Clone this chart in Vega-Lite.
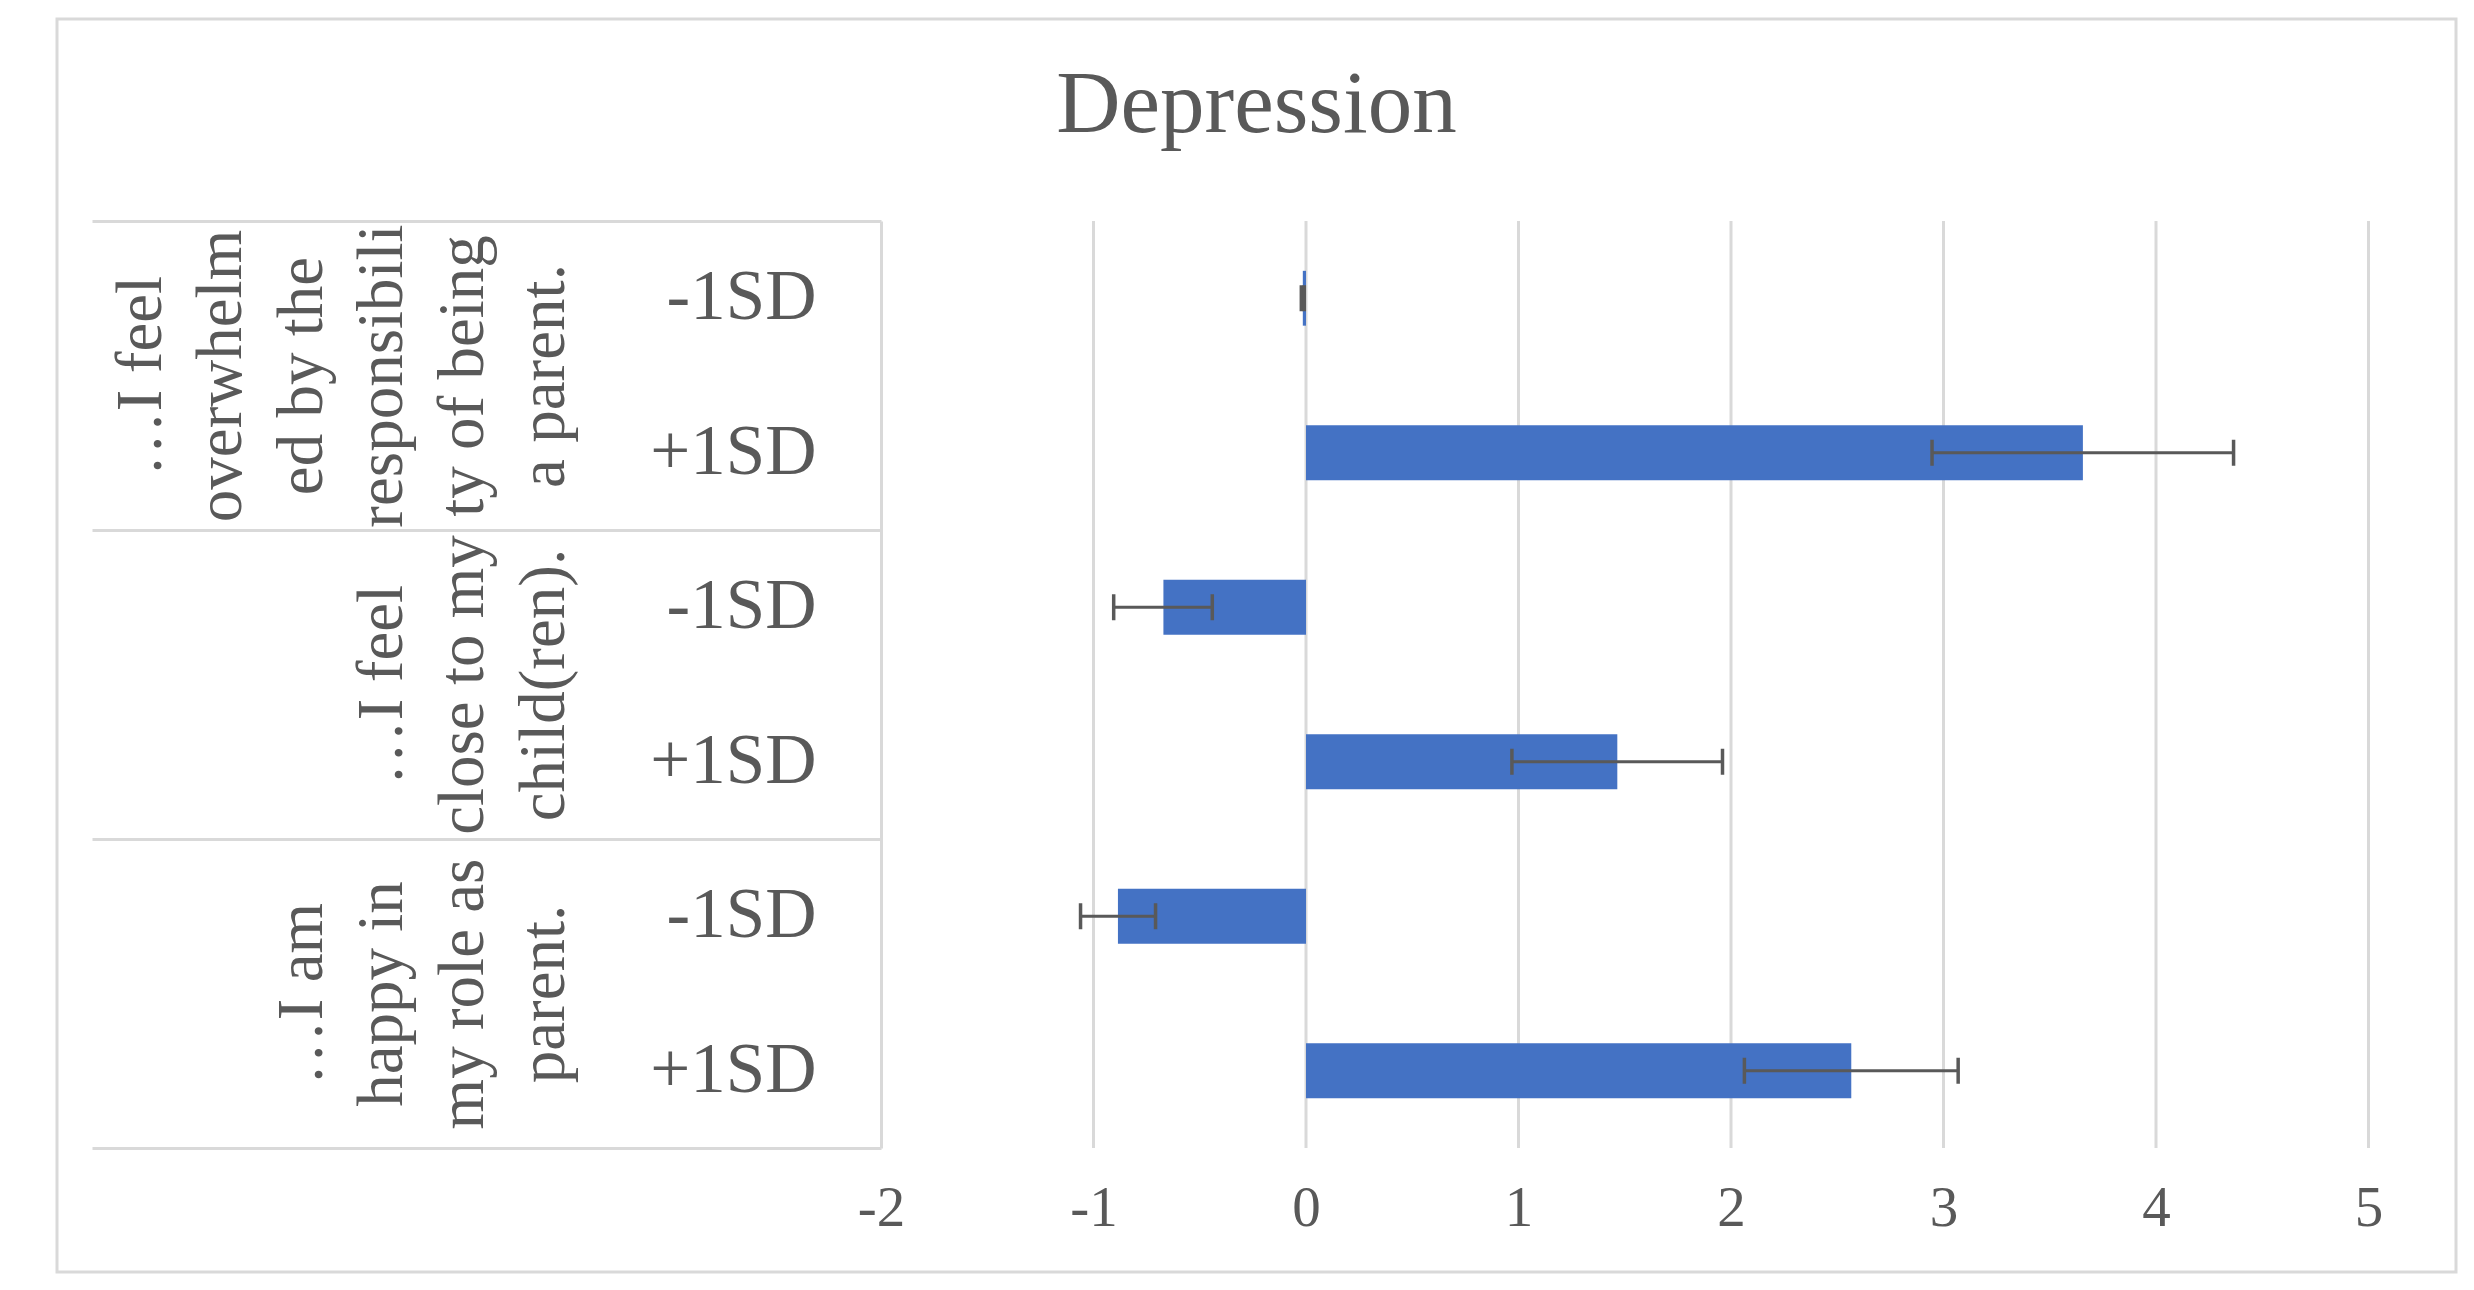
{
  "$schema": "https://vega.github.io/schema/vega-lite/v6.json",
  "width": 2399,
  "height": 1253,
  "autosize": {"type": "none"},
  "padding": {"left": 57, "top": 19, "right": 18, "bottom": 18},
  "background": "white",
  "title": {
    "text": "Depression",
    "font": "Liberation Serif",
    "fontSize": 89,
    "fontWeight": "normal",
    "color": "#595959",
    "anchor": "middle",
    "frame": "group",
    "baseline": "alphabetic",
    "offset": 0,
    "dy": 202
  },
  "data": {
    "values": [
      {"group": "…I feel\noverwhelm\ned by the\nresponsibili\nty of being\na parent.", "level": "-1SD", "row": "overwhelmed|-1SD", "mean": -0.015, "lower": -0.022, "upper": -0.008},
      {"group": "…I feel\noverwhelm\ned by the\nresponsibili\nty of being\na parent.", "level": "+1SD", "row": "overwhelmed|+1SD", "mean": 3.656, "lower": 2.946, "upper": 4.365},
      {"group": "…I feel\nclose to my\nchild(ren).", "level": "-1SD", "row": "close|-1SD", "mean": -0.671, "lower": -0.905, "upper": -0.441},
      {"group": "…I feel\nclose to my\nchild(ren).", "level": "+1SD", "row": "close|+1SD", "mean": 1.465, "lower": 0.969, "upper": 1.96},
      {"group": "…I am\nhappy in\nmy role as\nparent.", "level": "-1SD", "row": "happy|-1SD", "mean": -0.885, "lower": -1.061, "upper": -0.708},
      {"group": "…I am\nhappy in\nmy role as\nparent.", "level": "+1SD", "row": "happy|+1SD", "mean": 2.566, "lower": 2.063, "upper": 3.069}
    ]
  },
  "layer": [
    {
      "data": {"values": [{"v": -1}, {"v": 0}, {"v": 1}, {"v": 2}, {"v": 3}, {"v": 4}, {"v": 5}]},
      "mark": {"type": "rule", "color": "#D9D9D9", "strokeWidth": 3},
      "encoding": {
        "x": {"field": "v", "type": "quantitative"},
        "y": {"datum": 0, "type": "quantitative", "scale": {"domain": [0, 1], "range": [202, 1129]}, "axis": null},
        "y2": {"datum": 1}
      }
    },
    {
      "encoding": {
        "y": {
          "field": "row", "type": "nominal", "sort": null,
          "scale": {"range": [202, 1129], "paddingInner": 0.645, "paddingOuter": 0.3225},
          "axis": {
            "orient": "left", "offset": -824, "title": null, "domain": false, "ticks": false, "grid": false,
            "labelPadding": 65, "labelExpr": "split(datum.label, '|')[1]",
            "labelFont": "Liberation Serif", "labelFontSize": 71, "labelColor": "#595959",
            "labelAlign": "right", "labelBaseline": "middle", "labelLimit": 0
          }
        }
      },
      "layer": [
        {
          "mark": {"type": "bar", "color": "#4472C4"},
          "encoding": {
            "x": {
              "field": "mean", "type": "quantitative",
              "scale": {"domain": [-2, 5], "range": [824, 2311.5], "nice": false},
              "axis": {
                "orient": "bottom", "offset": -124, "title": null, "values": [-2, -1, 0, 1, 2, 3, 4, 5],
                "domain": false, "ticks": false, "grid": false, "labelFlush": false,
                "labelPadding": 77, "labelBaseline": "alphabetic", "labelExpr": "toString(datum.value)",
                "labelFont": "Liberation Serif", "labelFontSize": 57, "labelColor": "#595959", "labelLimit": 0
              }
            }
          }
        },
        {
          "mark": {"type": "rule", "color": "#595959", "strokeWidth": 3},
          "encoding": {
            "x": {"field": "lower", "type": "quantitative"},
            "x2": {"field": "upper"}
          }
        },
        {
          "mark": {"type": "tick", "color": "#595959", "thickness": 3.5, "size": 26, "opacity": 1},
          "encoding": {
            "x": {"field": "lower", "type": "quantitative"}
          }
        },
        {
          "mark": {"type": "tick", "color": "#595959", "thickness": 3.5, "size": 26, "opacity": 1},
          "encoding": {
            "x": {"field": "upper", "type": "quantitative"}
          }
        }
      ]
    },
    {
      "mark": {"type": "tick", "opacity": 0},
      "encoding": {
        "y": {
          "field": "group", "type": "nominal", "sort": null,
          "scale": {"range": [202, 1129], "paddingInner": 0, "paddingOuter": 0},
          "axis": {
            "orient": "left", "offset": -824, "title": null,
            "domain": true, "domainColor": "#D9D9D9", "domainWidth": 3,
            "ticks": true, "tickBand": "extent", "tickSize": 789, "tickColor": "#D9D9D9", "tickWidth": 3,
            "grid": false,
            "labelAngle": 270, "labelAlign": "center", "labelBaseline": "alphabetic", "labelPadding": -68,
            "labelExpr": "split(slice('\u200b\\n\u200b\\n\u200b\\n\u200b\\n\u200b\\n', 0, 2 * (6 - length(split(datum.label, '\\n')))) + datum.label, '\\n')",
            "labelLineHeight": 80.6,
            "labelFont": "Liberation Serif", "labelFontSize": 65, "labelColor": "#595959", "labelLimit": 0
          }
        },
        "x": {"field": "mean", "type": "quantitative"}
      }
    }
  ],
  "resolve": {"scale": {"y": "independent"}, "axis": {"y": "independent"}},
  "config": {
    "view": {"stroke": "#D9D9D9", "strokeWidth": 3}
  }
}
